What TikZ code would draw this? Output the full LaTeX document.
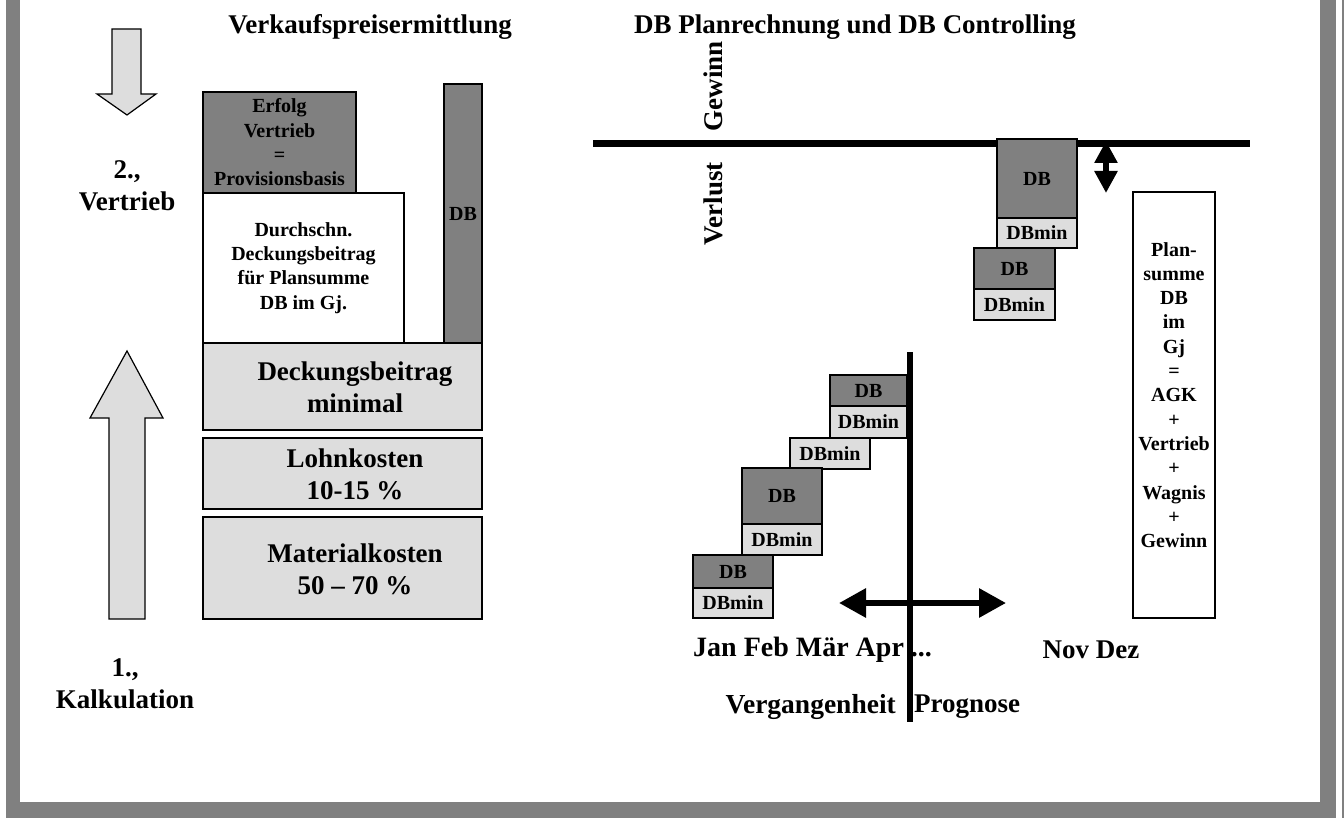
\documentclass[tikz,border=0pt]{standalone}
\usepackage{fontspec}
\setmainfont{Liberation Serif}
\usetikzlibrary{arrows.meta}

\definecolor{darkfill}{RGB}{128,128,128}
\definecolor{lightfill}{RGB}{221,221,221}
\definecolor{framegrey}{RGB}{128,128,128}

% box given by its corners: style, name, x1, y1, x2, y2, text
\newcommand{\blk}[7]{%
  \node[#1, minimum width={#5-#3}, minimum height={#6-#4}] (#2)
    at ({(#3+#5)/2},{(#4+#6)/2}) {#7};}

\begin{document}
\begin{tikzpicture}[x=1pt,y=-1pt,
  big/.style={font=\fontsize{27}{32}\selectfont\bfseries, align=center, inner sep=0pt},
  small/.style={font=\fontsize{20}{24.3}\selectfont\bfseries, align=center, inner sep=0pt},
  boxbase/.style={draw=black, line width=1.8pt, inner sep=0pt, outer sep=0pt},
  darkbox/.style={boxbase, fill=darkfill, small},
  lightbox/.style={boxbase, fill=lightfill, small},
  whitebox/.style={boxbase, fill=white, small},
  costbox/.style={boxbase, fill=lightfill},
  blockarrow/.style={draw=black, line width=1.2pt, fill=lightfill, line join=miter},
  axis/.style={line width=7pt},
  timeline/.style={line width=6pt},
  dblarrow/.style={line width=6pt, {Triangle[width=28pt,length=27pt]}-{Triangle[width=28pt,length=27pt]}},
  gaparrow/.style={line width=6pt, {Triangle[width=22pt,length=22pt]}-{Triangle[width=22pt,length=22pt]}}
]
\useasboundingbox (0,0) rectangle (1344,818);

% page frame
\fill[framegrey] (6,0) rectangle (1336,818);
\fill[white] (20,0) rectangle (1320,802);
\fill[framegrey] (1342,0) rectangle (1344,818);

% ---------- left: Verkaufspreisermittlung ----------
\node[big] (titleL) at (370,27) {Verkaufspreisermittlung};

% block arrows
\draw[blockarrow] (112,29) -- (141,29) -- (141,94) -- (156,94) -- (127,115)
  -- (97,94) -- (112,94) -- cycle;
\draw[blockarrow] (127,351) -- (163,418) -- (145,418) -- (145,619) -- (109,619)
  -- (109,418) -- (90,418) -- cycle;

\node[big] (step2) at (127,186) {2.,\\Vertrieb};
\node[big] (step1) at (125,684) {1.,\\Kalkulation};

\blk{darkbox}{erfolg}{203}{92}{356}{193}{Erfolg\\Vertrieb\\=\\Provisionsbasis}
\blk{whitebox}{durchschn}{203}{193}{404}{343}{Durchschn.\\Deckungsbeitrag\\für Plansumme\\DB im Gj.}
\blk{darkbox}{dbtall}{444}{84}{482}{343}{DB}

% cost blocks, labels set slightly right of the block centre
\blk{costbox}{dbmin}{203}{343}{482}{430}{}
\blk{costbox}{lohn}{203}{438}{482}{509}{}
\blk{costbox}{material}{203}{517}{482}{619}{}
\node[big] (dbmintext) at (355,387) {Deckungsbeitrag\\minimal};
\node[big] (lohntext) at (355,474) {Lohnkosten\\10-15 \%};
\node[big] (materialtext) at (355,569) {Materialkosten\\50 -- 70 \%};

% ---------- right: DB Planrechnung und DB Controlling ----------
\node[big] (titleR) at (855,27) {DB Planrechnung und DB Controlling};

\coordinate (axisL) at (593,144);
\coordinate (axisR) at (1250,144);
\draw[axis] (axisL) -- (axisR);

\node[big, rotate=90] (gewinn) at (713,86) {Gewinn};
\node[big, rotate=90] (verlust) at (713,204) {Verlust};

\blk{darkbox}{dbA}{997}{139}{1077}{218}{DB}
\blk{lightbox}{dbminA}{997}{218}{1077}{248}{DBmin}
\blk{darkbox}{dbB}{974}{248}{1055}{289}{DB}
\blk{lightbox}{dbminB}{974}{289}{1055}{320}{DBmin}

\coordinate (gapTop) at (1106,141);
\coordinate (gapBot) at (1106,193);
\draw[gaparrow] (gapTop) -- (gapBot);

\blk{boxbase}{plansumme}{1133}{192}{1215}{618}{}
\node[small] (plantext) at (1174,395)
  {Plan-\\summe\\DB\\im\\Gj\\=\\AGK\\+\\Vertrieb\\+\\Wagnis\\+\\Gewinn};

% monthly staircase
\blk{darkbox}{dbC}{830}{375}{907}{406}{DB}
\blk{lightbox}{dbminC}{830}{406}{907}{438}{DBmin}
\blk{lightbox}{dbminD}{790}{438}{870}{469}{DBmin}
\blk{darkbox}{dbE}{742}{468}{822}{524}{DB}
\blk{lightbox}{dbminE}{742}{524}{822}{555}{DBmin}
\blk{darkbox}{dbF}{693}{555}{773}{588}{DB}
\blk{lightbox}{dbminF}{693}{588}{773}{618}{DBmin}

\node[big, font=\fontsize{28}{32}\selectfont\bfseries, anchor=west] (months)
  at (693,650) {Jan Feb Mär Apr ...};
\node[big] (novdez) at (1091,650) {Nov Dez};
\node[big, font=\fontsize{27.5}{32}\selectfont\bfseries, anchor=east] (past)
  at (896,707) {Vergangenheit};
\node[big, anchor=west] (forecast) at (914,707) {Prognose};

\coordinate (nowTop) at (910,352);
\coordinate (nowBot) at (910,722);
\draw[timeline] (nowTop) -- (nowBot);

\coordinate (timeL) at (839,603);
\coordinate (timeR) at (1006,603);
\draw[dblarrow] (timeL) -- (timeR);
\end{tikzpicture}
\end{document}
